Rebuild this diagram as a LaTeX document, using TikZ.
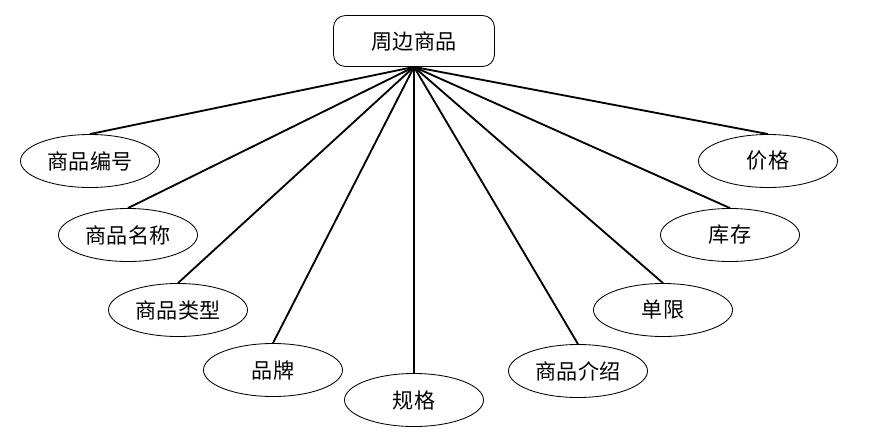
\documentclass[tikz,border=0pt]{standalone}
\usepackage{fontspec}
\setmainfont{Noto Sans CJK SC}
\usepackage{tikz}
\usetikzlibrary{shapes.geometric}
\tikzstyle{entity} = [draw, rounded corners=0.3cm, line width=0.6pt, minimum width=4.025cm, minimum height=1.275cm, font=\fontsize{15}{18}\selectfont]
\tikzstyle{attr} = [draw, ellipse, line width=0.6pt, minimum width=3.475cm, minimum height=1.325cm, inner sep=0pt, font=\fontsize{15}{18}\selectfont]
\tikzstyle{link} = [line width=1.3pt]

\begin{document}
\begin{tikzpicture}[x=0.025cm, y=-0.025cm]
            \useasboundingbox (0,0) rectangle (895,443);
            \node[entity] (goods) at (414,41) {周边商品};
            \node[attr] (id) at (90,161) {商品编号};
            \node[attr] (name) at (128,235) {商品名称};
            \node[attr] (type) at (178,310) {商品类型};
            \node[attr] (brand) at (273,370) {品牌};
            \node[attr] (spec) at (414,400) {规格};
            \node[attr] (intro) at (578,371) {商品介绍};
            \node[attr] (limit) at (663,310) {单限};
            \node[attr] (stock) at (730,235) {库存};
            \node[attr] (price) at (768,161) {价格};
            \foreach \n in {id,name,type,brand,spec,intro,limit,stock,price}
                \draw[link] (goods.south) -- (\n.north);
        \end{tikzpicture}
\end{document}
